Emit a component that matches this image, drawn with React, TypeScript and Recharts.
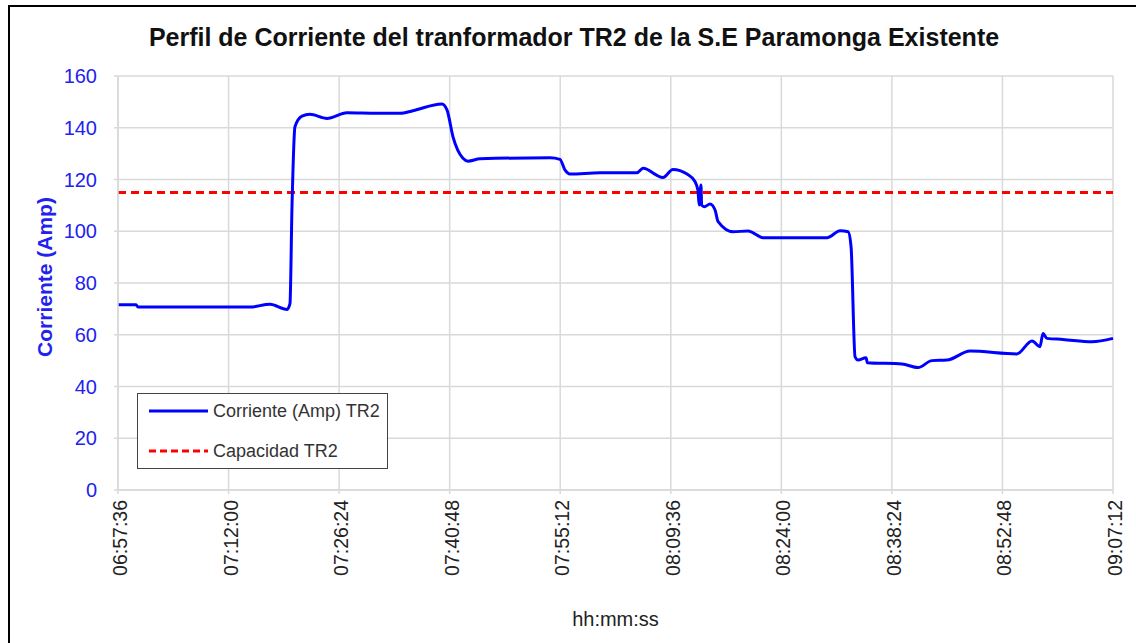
import { CartesianGrid, Label, Legend, Line, LineChart, ReferenceLine, XAxis, YAxis } from 'recharts';

const sampleTimes = [
  '06:57:36', '06:59:57', '07:00:12', '07:14:48', '07:17:24', '07:19:37', '07:20:00', '07:20:16', '07:20:39',
  '07:21:34', '07:22:36', '07:24:49', '07:27:25', '07:31:20', '07:34:20', '07:36:01', '07:39:48', '07:40:27',
  '07:41:14', '07:42:32', '07:43:11', '07:44:45', '07:53:52', '07:55:10', '07:55:49', '07:56:28', '08:00:23',
  '08:05:12', '08:05:59', '08:08:35', '08:09:53', '08:11:43', '08:12:45', '08:13:08', '08:13:18', '08:13:32',
  '08:13:37', '08:13:58', '08:14:43', '08:15:22', '08:15:46', '08:17:43', '08:19:40', '08:21:37', '08:29:57',
  '08:31:39', '08:32:42', '08:33:05', '08:33:36', '08:33:59', '08:35:02', '08:35:12', '08:39:43', '08:41:48',
  '08:43:37', '08:45:34', '08:48:35', '08:54:41', '08:56:39', '08:57:41', '08:58:05', '08:58:36', '09:00:41',
  '09:04:28', '09:07:12',
];

const corrienteTR2 = [
  71.6, 71.6, 70.7, 70.7, 71.8, 69.8, 72.0, 110.0, 140.4,
  144.5, 145.2, 143.6, 145.8, 145.6, 145.6, 146.6, 149.2, 146.9,
  136.5, 128.2, 127.1, 128.0, 128.4, 127.8, 123.7, 122.1, 122.6,
  122.6, 124.3, 120.8, 123.9, 122.1, 119.2, 115.9, 110.1, 117.9,
  110.1, 109.5, 110.5, 108.2, 103.7, 99.8, 100.1, 97.5, 97.5,
  100.2, 99.8, 94.0, 51.5, 50.2, 51.1, 49.2, 48.7, 47.3,
  50.0, 50.2, 53.7, 52.6, 57.6, 55.4, 60.5, 58.6, 58.2,
  57.3, 58.6,
];

const capacidadTR2 = 115;

const xTickLabels = ['06:57:36', '07:12:00', '07:26:24', '07:40:48', '07:55:12', '08:09:36', '08:24:00', '08:38:24', '08:52:48', '09:07:12'];
const yTicks = [0, 20, 40, 60, 80, 100, 120, 140, 160];

const toSeconds = (s: string) => {
  const [h, m, sec] = s.split(':').map(Number);
  return h * 3600 + m * 60 + sec;
};

const pad = (n: number) => String(n).padStart(2, '0');
const fmtTime = (v: number) => `${pad(Math.floor(v / 3600))}:${pad(Math.floor((v % 3600) / 60))}:${pad(v % 60)}`;

const data = sampleTimes.map((t, i) => ({ t: toSeconds(t), corriente: corrienteTR2[i] }));
const xTicks = xTickLabels.map(toSeconds);

const font = '"Liberation Sans", Arial, sans-serif';
const gridColor = '#d9d9d9';
const blue = '#0000ff';

function XTick({ x, y, payload }: any) {
  return (
    <text
      x={x + 2}
      y={y}
      transform={`rotate(-90, ${x + 2}, ${y})`}
      textAnchor="end"
      dominantBaseline="central"
      fontSize={19.5}
      fontFamily={font}
      fill="#222"
    >
      {fmtTime(payload.value)}
    </text>
  );
}

function LegendBox() {
  return (
    <div style={{ width: 251, height: 76, border: '1px solid #444', background: '#fff', boxSizing: 'border-box' }}>
      <svg width={249} height={74} style={{ display: 'block' }}>
        <line x1={11} x2={70} y1={17} y2={17} stroke={blue} strokeWidth={3} />
        <text x={75} y={17} dominantBaseline="central" fontSize={18} fontFamily={font} fill="#333">
          Corriente (Amp) TR2
        </text>
        <line x1={11} x2={70} y1={57} y2={57} stroke="#ff0000" strokeWidth={3} strokeDasharray="7 4" />
        <text x={75} y={57} dominantBaseline="central" fontSize={18} fontFamily={font} fill="#333">
          Capacidad TR2
        </text>
      </svg>
    </div>
  );
}

export default function App() {
  return (
    <div style={{ position: 'absolute', left: 0, top: 0, width: 1136, height: 643, background: '#fff', fontFamily: font }}>
      <div
        style={{
          position: 'absolute',
          left: 8,
          top: 5,
          right: 0,
          bottom: 0,
          borderLeft: '2px solid #000',
          borderTop: '2px solid #000',
        }}
      />
      <div
        style={{
          position: 'absolute',
          left: 0,
          width: 1148,
          top: 23,
          textAlign: 'center',
          fontWeight: 'bold',
          fontSize: 25,
          color: '#111',
        }}
      >
        Perfil de Corriente del tranformador TR2 de la S.E Paramonga Existente
      </div>
      <LineChart width={1136} height={643} data={data} margin={{ top: 76, right: 23, bottom: 0, left: 0 }}>
        <CartesianGrid stroke={gridColor} strokeWidth={1.5} verticalValues={xTicks} horizontalValues={yTicks} />
        <XAxis
          dataKey="t"
          type="number"
          domain={[xTicks[0], xTicks[xTicks.length - 1]]}
          ticks={xTicks}
          interval={0}
          height={153}
          tick={<XTick />}
          tickSize={4}
          tickMargin={6}
          tickLine={{ stroke: gridColor, strokeWidth: 1.5 }}
          axisLine={{ stroke: gridColor, strokeWidth: 1.5 }}
        >
          <Label value="hh:mm:ss" position="insideBottom" offset={17} fontSize={20} fontFamily={font} fill="#222" />
        </XAxis>
        <YAxis
          domain={[0, 160]}
          ticks={yTicks}
          interval={0}
          width={118}
          tick={{ fontSize: 20, fontFamily: font, fill: '#2222ee' }}
          tickSize={4}
          tickMargin={17}
          tickLine={{ stroke: gridColor, strokeWidth: 1.5 }}
          axisLine={{ stroke: gridColor, strokeWidth: 1.5 }}
        >
          <Label
            content={({ viewBox }: any) => {
              const cx = viewBox.x + 44;
              const cy = viewBox.y + viewBox.height / 2 - 6;
              return (
                <text
                  x={cx}
                  y={cy}
                  transform={`rotate(-90, ${cx}, ${cy})`}
                  textAnchor="middle"
                  dominantBaseline="central"
                  fontSize={21}
                  fontWeight="bold"
                  fontFamily={font}
                  fill="#2222ee"
                >
                  Corriente (Amp)
                </text>
              );
            }}
          />
        </YAxis>
        <ReferenceLine y={capacidadTR2} stroke="#ff0000" strokeWidth={3} strokeDasharray="8 5" ifOverflow="extendDomain" />
        <Line
          type="monotone"
          dataKey="corriente"
          name="Corriente (Amp) TR2"
          stroke={blue}
          strokeWidth={3}
          dot={false}
          activeDot={false}
          isAnimationActive={false}
        />
        <Legend
          layout="horizontal"
          verticalAlign="middle"
          align="center"
          content={() => <LegendBox />}
          wrapperStyle={{ left: 137, top: 393, width: 251, height: 76 }}
        />
      </LineChart>
    </div>
  );
}
